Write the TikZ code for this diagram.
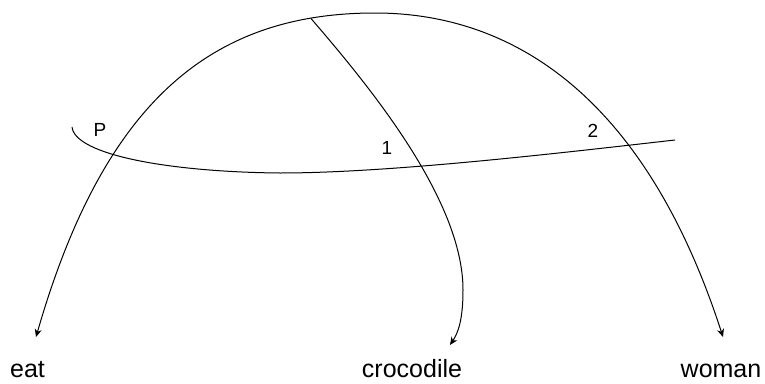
\documentclass[tikz,border=0pt]{standalone}
\usepackage{fontspec}
\setmainfont{Liberation Sans}
\usetikzlibrary{arrows.meta}
\begin{document}
\begin{tikzpicture}[x=1pt,y=-1pt, line width=1pt,
  tipa/.style={-{Stealth[length=8pt,width=7pt]}},
  tipb/.style={{Stealth[length=8pt,width=7pt]}-{Stealth[length=8pt,width=7pt]}},
  word/.style={font=\fontsize{25}{30}\selectfont, inner sep=0pt, anchor=base},
  lab/.style={font=\fontsize{19}{22}\selectfont, inner sep=0pt}]
\useasboundingbox[fill=white] (0,0) rectangle (765,383);
\node[word] (eat) at (27.5,377) {eat};
\node[word] (croc) at (412,377) {crocodile};
\node[word] (woman) at (721,377) {woman};
\coordinate (eatT) at (36,337);
\coordinate (top) at (375,13);
\coordinate (womT) at (723,337);
\coordinate (croT) at (450,345);
\coordinate (j) at (311,18.5);
\coordinate (h1) at (72,127);
\coordinate (h2) at (675,140);
\draw[tipb] (eatT) .. controls (105,97) and (215,13) .. (top)
  .. controls (515,13) and (646,99) .. (womT);
\draw[tipa] (j) .. controls (370,87) and (463,200) .. (463,290)
  .. controls (463,320) and (458,333) .. (croT);
\draw (h1) .. controls (75,155) and (170,172) .. (280,173)
  .. controls (390,173) and (560,153) .. (h2);
\node[lab] (lp) at (100,130) {P};
\node[lab] (l1) at (387,148) {1};
\node[lab] (l2) at (593,131) {2};
\end{tikzpicture}
\end{document}
